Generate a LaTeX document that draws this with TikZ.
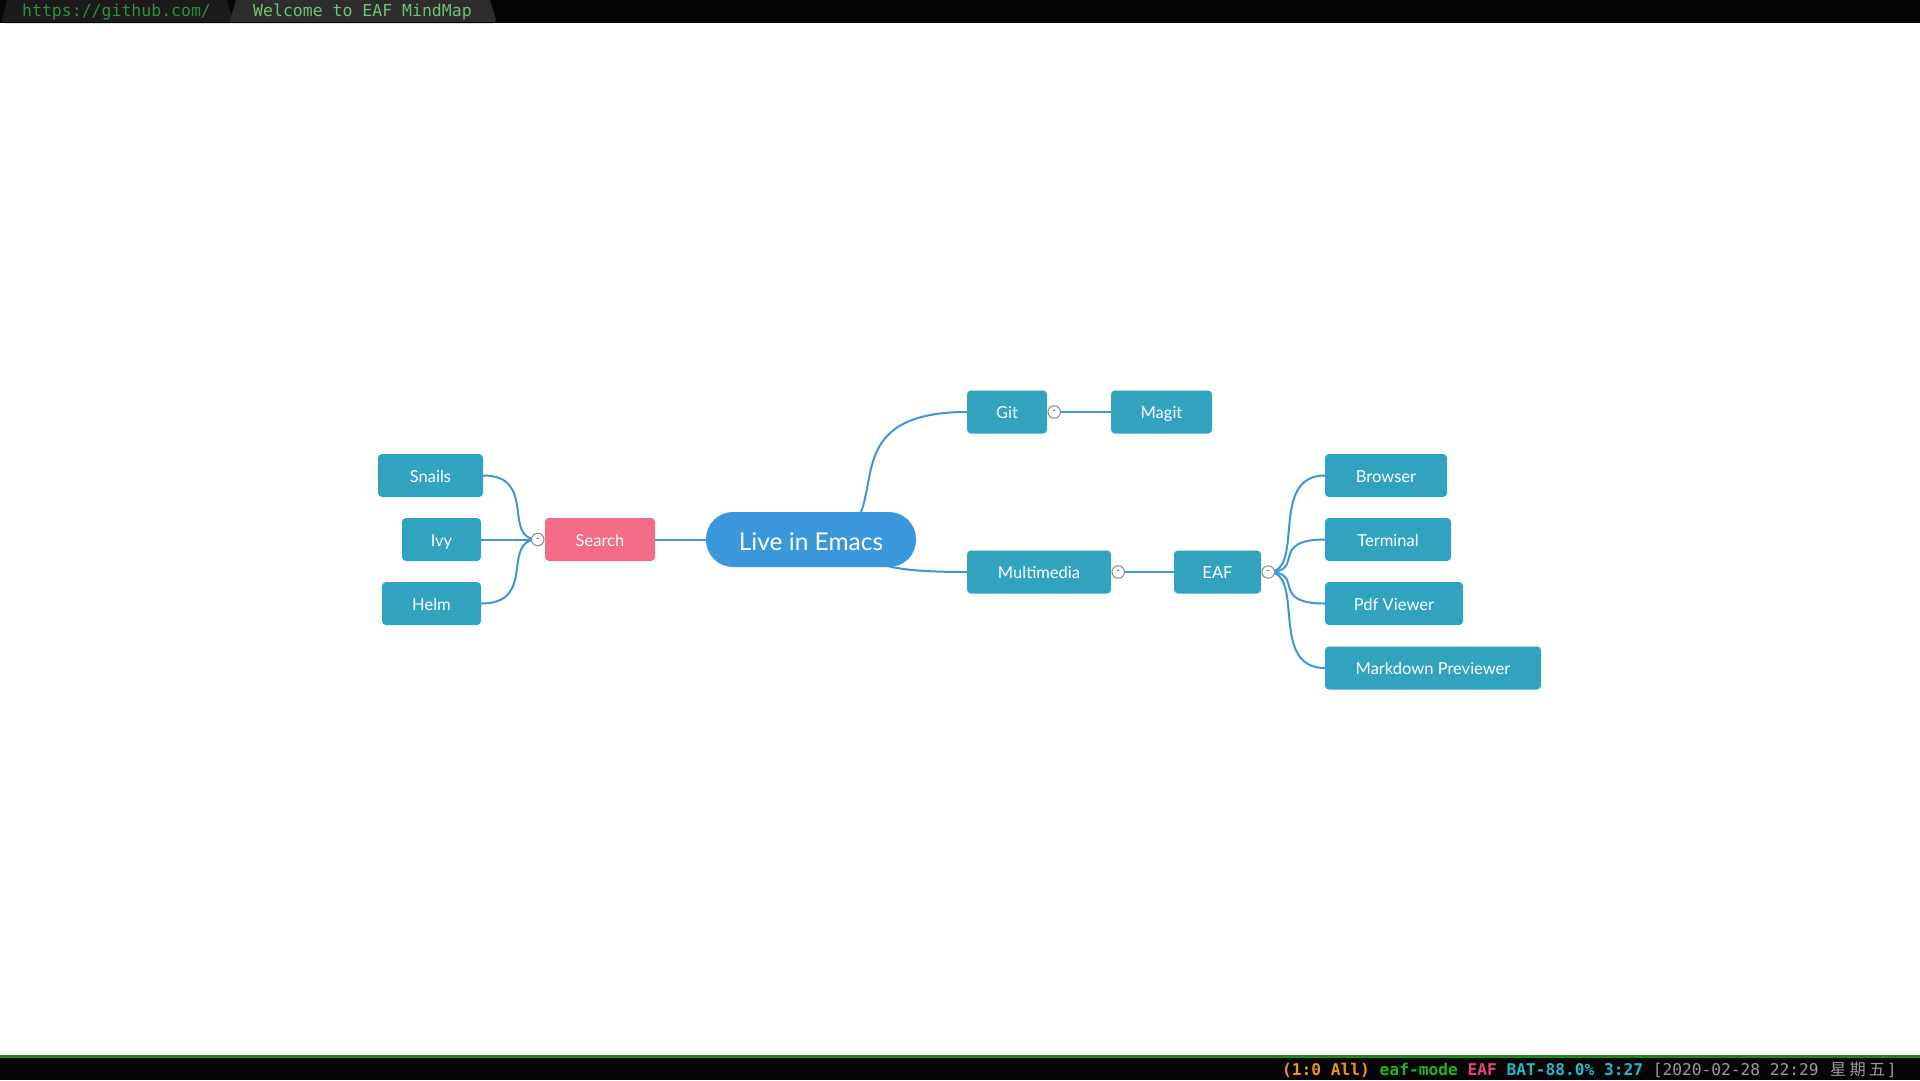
\documentclass[tikz,border=0pt]{standalone}
\usepackage{fontspec}
\setmainfont{Lato}
\newfontfamily\mmmono{DejaVu Sans Mono}
\newfontfamily\mmcjk{Noto Sans CJK SC}
\usetikzlibrary{calc}
\definecolor{nodeteal}{HTML}{31A3BF}
\definecolor{rootblue}{HTML}{3A97DB}
\definecolor{searchpink}{HTML}{F46B86}
\definecolor{linecol}{HTML}{3D96DC}
\definecolor{expgray}{HTML}{8A8A8A}
\definecolor{barblack}{HTML}{050505}
\definecolor{tabone}{HTML}{1B1B1B}
\definecolor{tabtwo}{HTML}{2D2D2D}
\definecolor{tabonetext}{HTML}{2F8F3C}
\definecolor{tabtwotext}{HTML}{6FBF76}
\definecolor{bargreen}{HTML}{1E8A12}
\definecolor{sorange}{HTML}{F0921C}
\definecolor{sgreen}{HTML}{1EB41E}
\definecolor{spink}{HTML}{E2457B}
\definecolor{scyan}{HTML}{1FB8CC}
\definecolor{sgray}{HTML}{9A9A9A}
\newcommand\mmnodefont{\fontsize{16.5}{20}\selectfont}
\newcommand\mmrootfont{\fontsize{24.5}{28}\selectfont}
\newcommand\mmtabfont{\mmmono\fontsize{16.5}{20}\selectfont}
\newcommand\mmstatfont{\mmmono\fontsize{16.2}{20}\selectfont}
\newcommand\mmcjkcell[1]{\makebox[19.5pt][c]{\mmcjk\fontsize{16.2}{20}\selectfont #1}}
\newcommand\mmedge[2]{\draw[edge] let \p1=(#1), \p2=(#2) in (\p1) .. controls ({\x1+(\x2-\x1)*2/3},\y1) and (\x1,\y2) .. (\p2);}
\pgfdeclarelayer{bottom}
\pgfdeclarelayer{background}
\pgfsetlayers{bottom,background,main}
\tikzset{
  mnode/.style={fill=nodeteal, text=white, rounded corners=4pt, inner sep=0pt, font=\mmnodefont, minimum height=43pt, text height=13.5pt, text depth=0pt},
  rootnode/.style={fill=rootblue, text=white, rounded corners=27pt, minimum width=210pt, minimum height=55pt, font=\mmrootfont, inner sep=0pt, text height=21pt, text depth=0pt},
  searchnode/.style={mnode, fill=searchpink},
  expander/.style={circle, draw=expgray, fill=white, line width=1pt, minimum size=12.5pt, inner sep=0pt, font=\fontsize{9}{9}\selectfont, text=black!80},
  edge/.style={draw=linecol, line width=2pt},
  tabtext/.style={anchor=base west, inner sep=0pt, font=\mmtabfont},
}
\begin{document}
\begin{tikzpicture}[x=1pt,y=-1pt]
\useasboundingbox (0,0) rectangle (1920,1080);
\begin{pgfonlayer}{bottom}
\fill[white] (0,0) rectangle (1920,1080);
\end{pgfonlayer}

% top bar
\fill[barblack] (0,0) rectangle (1920,23);
\fill[tabone, rounded corners=4pt] (1,23) -- (8,-3) -- (226,-3) -- (234,23) -- cycle;
\fill[tabtwo, rounded corners=4pt] (229,23) -- (237,-3) -- (489,-3) -- (497,23) -- cycle;
\fill[barblack] (0,22) rectangle (1920,23);
\node[tabtext, text=tabonetext] (tabone) at (22,16.5) {https://github.com/};
\node[tabtext, text=tabtwotext] (tabtwo) at (253,16.5) {Welcome to EAF MindMap};

% bottom bar
\fill[barblack] (0,1057) rectangle (1920,1080);
\fill[bargreen] (0,1055) rectangle (1920,1058);
\node[anchor=base west, inner sep=0pt, font=\mmstatfont] (status) at (1282,1075.5)
  {\textcolor{sorange}{\bfseries(1:0 All)} \textcolor{sgreen}{\bfseries eaf-mode} \textcolor{spink}{\bfseries EAF} \textcolor{scyan}{\bfseries BAT-88.0\% 3:27} \textcolor{sgray}{[2020-02-28 22:29 \mmcjkcell{星}\mmcjkcell{期}\mmcjkcell{五}]}};

% nodes
\node[rootnode] (root) at (811,539.5) {Live in Emacs};
\node[searchnode, minimum width=110pt] (search) at (600,539.5) {Search};
\node[mnode, minimum width=105pt] (snails) at (430.5,475.5) {Snails};
\node[mnode, minimum width=79pt] (ivy) at (441.5,539.5) {Ivy};
\node[mnode, minimum width=99pt] (helm) at (431.5,603.5) {Helm};
\node[mnode, minimum width=80pt] (git) at (1007,412) {Git};
\node[mnode, minimum width=101pt] (magit) at (1161.5,412) {Magit};
\node[mnode, minimum width=144pt] (multi) at (1039,572) {Multimedia};
\node[mnode, minimum width=87pt] (eaf) at (1217.5,572) {EAF};
\node[mnode, minimum width=122pt] (browser) at (1386,475.5) {Browser};
\node[mnode, minimum width=126pt] (terminal) at (1388,539.5) {Terminal};
\node[mnode, minimum width=138pt] (pdf) at (1394,603.5) {Pdf Viewer};
\node[mnode, minimum width=216pt] (md) at (1433,668) {Markdown Previewer};

% expanders
\node[expander] (searchx) at ([xshift=-7pt]search.west) {-};
\node[expander] (gitx) at ([xshift=7pt]git.east) {-};
\node[expander] (multix) at ([xshift=7pt]multi.east) {-};
\node[expander] (eafx) at ([xshift=7pt]eaf.east) {-};

% connectors
\begin{pgfonlayer}{background}
\mmedge{root.center}{search.east}
\mmedge{root.center}{git.west}
\mmedge{root.center}{multi.west}
\mmedge{searchx.center}{snails.east}
\mmedge{searchx.center}{ivy.east}
\mmedge{searchx.center}{helm.east}
\mmedge{gitx.center}{magit.west}
\mmedge{multix.center}{eaf.west}
\mmedge{eafx.center}{browser.west}
\mmedge{eafx.center}{terminal.west}
\mmedge{eafx.center}{pdf.west}
\mmedge{eafx.center}{md.west}
\end{pgfonlayer}
\end{tikzpicture}
\end{document}
